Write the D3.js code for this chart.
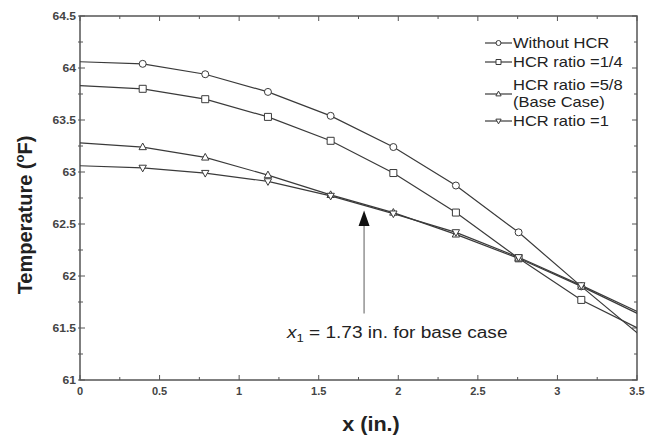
<!DOCTYPE html>
<html>
<head>
<meta charset="utf-8">
<script src="https://cdn.jsdelivr.net/npm/d3@7"></script>
<style>
  body { margin: 0; background: #fff; }
  text { font-family: Arial, "Liberation Sans", sans-serif; }
</style>
</head>
<body>
<script>
// x positions (in.) of the computed points, 1 cm apart
const xs = [0, 0.394, 0.787, 1.181, 1.575, 1.969, 2.362, 2.756, 3.150, 3.543]
const withoutHCR = [64.06, 64.04, 63.94, 63.77, 63.54, 63.24, 62.87, 62.42, 61.90, 61.40]
const hcrQuarter = [63.83, 63.80, 63.70, 63.53, 63.30, 62.99, 62.61, 62.17, 61.77, 61.47]
const hcrFiveEighths = [63.28, 63.24, 63.14, 62.97, 62.78, 62.61, 62.40, 62.17, 61.90, 61.61]
const hcrOne = [63.06, 63.04, 62.99, 62.91, 62.77, 62.60, 62.42, 62.18, 61.91, 61.63]

const seriesNames = ['Without HCR', 'HCR ratio =1/4', 'HCR ratio =5/8', 'HCR ratio =1']
const seriesSymbols = ['circle', 'square', 'triangle', 'down']
const xTicks = [0, 0.5, 1, 1.5, 2, 2.5, 3, 3.5]
const yTicks = [61, 61.5, 62, 62.5, 63, 63.5, 64, 64.5]

// annotation: x1 = 1.73 in. marker arrow
const arrowX = 1.785
const arrowTip = 62.63
const arrowBase = 62.48
const arrowEnd = 61.64

const width = 645
const height = 441
const margin = { top: 16, right: 8, bottom: 61, left: 80 }
const lineColor = '#3a3a3a'
const axisColor = '#555'
const stretch = 1.18 // the source picture is a bit wider than tall

const svg = d3.select('body').append('svg')
  .attr('xmlns', 'http://www.w3.org/2000/svg')
  .attr('width', width)
  .attr('height', height)

const x = d3.scaleLinear()
  .domain([0, 3.5])
  .range([margin.left, width - margin.right])

const y = d3.scaleLinear()
  .domain([61, 64.5])
  .range([height - margin.bottom, margin.top])

svg.append('clipPath')
  .attr('id', 'plot-clip')
  .append('rect')
  .attr('x', x(0))
  .attr('y', y(64.5))
  .attr('width', x(3.5) - x(0))
  .attr('height', y(61) - y(64.5))

// Axes (ticks point inward on all four sides)
const minorX = d3.range(0, 3.5001, 0.25)
const minorY = d3.range(61, 64.5001, 0.25)

const axes = svg.append('g')
  .attr('stroke', axisColor)

axes.selectAll('.tx')
  .data(minorX)
  .join('g')
  .each((d, i, nodes) => {
    const len = Number.isInteger(d * 2) ? 5 : 3
    const g = d3.select(nodes[i])
    g.append('line')
      .attr('x1', x(d)).attr('x2', x(d))
      .attr('y1', y(61)).attr('y2', y(61) - len)
    g.append('line')
      .attr('x1', x(d)).attr('x2', x(d))
      .attr('y1', y(64.5)).attr('y2', y(64.5) + len)
  })

axes.selectAll('.ty')
  .data(minorY)
  .join('g')
  .each((d, i, nodes) => {
    const len = Number.isInteger(d * 2) ? 5 : 3
    const g = d3.select(nodes[i])
    g.append('line')
      .attr('x1', x(0) - 2).attr('x2', x(0) + len)
      .attr('y1', y(d)).attr('y2', y(d))
    g.append('line')
      .attr('x1', x(3.5)).attr('x2', x(3.5) - len)
      .attr('y1', y(d)).attr('y2', y(d))
  })

axes.append('rect')
  .attr('x', x(0))
  .attr('y', y(64.5))
  .attr('width', x(3.5) - x(0))
  .attr('height', y(61) - y(64.5))
  .attr('fill', 'none')
  .attr('stroke-width', 1.5)

svg.append('g')
  .selectAll('text')
  .data(xTicks)
  .join('text')
  .attr('x', d => x(d))
  .attr('y', y(61) + 15)
  .attr('text-anchor', 'middle')
  .attr('font-size', 11)
  .attr('font-weight', 'bold')
  .attr('fill', '#444')
  .text(d => d)

svg.append('g')
  .selectAll('text')
  .data(yTicks)
  .join('text')
  .attr('transform', d => `translate(${x(0) - 4},${y(d) + 4}) scale(1.1,1)`)
  .attr('text-anchor', 'end')
  .attr('font-size', 11)
  .attr('font-weight', 'bold')
  .attr('fill', '#444')
  .text(d => d)

// Axis titles
svg.append('text')
  .attr('transform', 'translate(371, 431) scale(1.08,1)')
  .attr('text-anchor', 'middle')
  .attr('font-size', 20)
  .attr('font-weight', 'bold')
  .attr('fill', '#222')
  .text('x (in.)')

const yTitle = svg.append('text')
  .attr('transform', 'translate(32, 215) rotate(-90)')
  .attr('text-anchor', 'middle')
  .attr('font-size', 20)
  .attr('font-weight', 'bold')
  .attr('fill', '#222')
yTitle.append('tspan').text('Temperature (')
yTitle.append('tspan').attr('font-size', 13).attr('dy', -8).text('o')
yTitle.append('tspan').attr('dy', 8).text('F)')

// Markers
const markerPath = (type, r) => {
  if (type === 'square') return `M${-r},${-r}h${2 * r}v${2 * r}h${-2 * r}Z`
  if (type === 'triangle') return `M0,${-r * 1.15}L${r * 1.05},${r * 0.75}L${-r * 1.05},${r * 0.75}Z`
  return `M0,${r * 1.15}L${r * 1.05},${-r * 0.75}L${-r * 1.05},${-r * 0.75}Z`
}

const drawMarker = (g, type, cx, cy, r) => {
  if (type === 'circle') {
    g.append('circle')
      .attr('cx', cx).attr('cy', cy).attr('r', r)
      .attr('fill', '#fff').attr('stroke', lineColor).attr('stroke-width', 1)
  } else {
    g.append('path')
      .attr('transform', `translate(${cx},${cy})`)
      .attr('d', markerPath(type, r))
      .attr('fill', '#fff').attr('stroke', lineColor).attr('stroke-width', 1)
  }
}

const allSeries = [withoutHCR, hcrQuarter, hcrFiveEighths, hcrOne]

const line = d3.line()
  .x((d, i) => x(xs[i]))
  .y(d => y(d))

const plot = svg.append('g')
  .attr('clip-path', 'url(#plot-clip)')

allSeries.forEach((values) => {
  plot.append('path')
    .datum(values)
    .attr('d', line)
    .attr('fill', 'none')
    .attr('stroke', lineColor)
    .attr('stroke-width', 1.2)
})

allSeries.forEach((values, s) => {
  const g = plot.append('g')
  values.forEach((v, i) => {
    if (xs[i] > 0 && xs[i] <= 3.5) drawMarker(g, seriesSymbols[s], x(xs[i]), y(v), 3.5)
  })
})

// Legend
const legendRows = [
  { lines: [seriesNames[0]], cy: 43 },
  { lines: [seriesNames[1]], cy: 62 },
  { lines: [seriesNames[2], '(Base Case)'], cy: 94 },
  { lines: [seriesNames[3]], cy: 121 },
]

const legend = svg.append('g')
legendRows.forEach((row, s) => {
  legend.append('line')
    .attr('x1', 485).attr('x2', 512)
    .attr('y1', row.cy).attr('y2', row.cy)
    .attr('stroke', lineColor)
    .attr('stroke-width', 1.2)
  drawMarker(legend, seriesSymbols[s], 498.5, row.cy, 2.5)
  row.lines.forEach((t, k) => {
    const ty = row.lines.length === 1 ? row.cy + 5 : row.cy - 4 + k * 17
    legend.append('text')
      .attr('transform', `translate(513,${ty}) scale(${stretch},1)`)
      .attr('font-size', 14)
      .attr('fill', '#222')
      .text(t)
  })
})

// Annotation
svg.append('line')
  .attr('x1', x(arrowX)).attr('x2', x(arrowX))
  .attr('y1', y(arrowEnd)).attr('y2', y(arrowBase))
  .attr('stroke', '#777')
  .attr('stroke-width', 1.2)

svg.append('path')
  .attr('d', `M${x(arrowX)},${y(arrowTip)}L${x(arrowX) + 5.5},${y(arrowBase)}L${x(arrowX) - 5.5},${y(arrowBase)}Z`)
  .attr('fill', '#111')

const note = svg.append('text')
  .attr('transform', `translate(287,338) scale(1.19,1)`)
  .attr('font-size', 16)
  .attr('fill', '#222')
note.append('tspan').attr('font-style', 'italic').text('x')
note.append('tspan').attr('font-size', 11).attr('dy', 4).text('1')
note.append('tspan').attr('dy', -4).text(' = 1.73 in. for base case')
</script>
</body>
</html>
